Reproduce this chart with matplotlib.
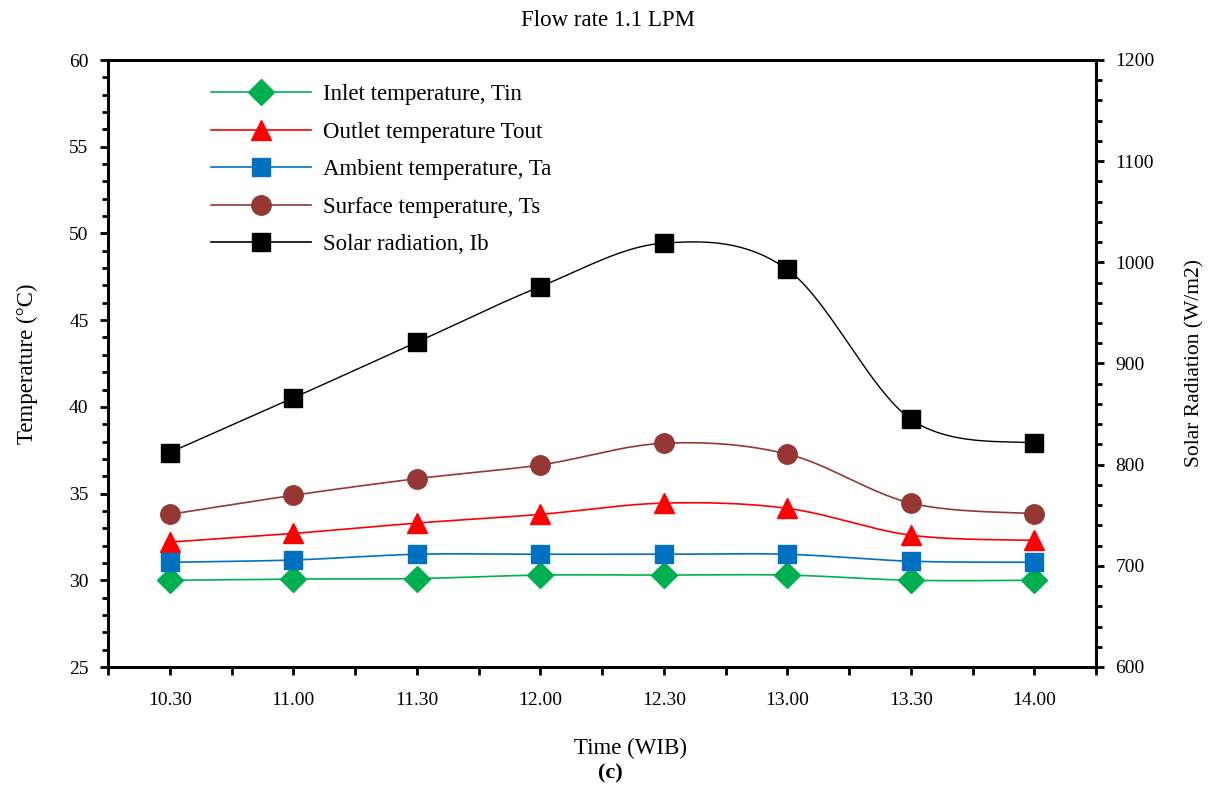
import numpy as np
import matplotlib.pyplot as plt
from matplotlib.ticker import MultipleLocator
from matplotlib.lines import Line2D

plt.rcParams['font.family'] = ['Liberation Serif', 'DejaVu Serif']

# Data: readings every half hour, flow rate 1.1 LPM
times = ['10.30', '11.00', '11.30', '12.00', '12.30', '13.00', '13.30', '14.00']
t_in = [30.0, 30.07, 30.1, 30.3, 30.3, 30.3, 30.0, 30.0]
t_out = [32.2, 32.7, 33.3, 33.8, 34.45, 34.15, 32.6, 32.3]
t_amb = [31.04, 31.17, 31.5, 31.5, 31.5, 31.5, 31.1, 31.04]
t_surf = [33.8, 34.9, 35.86, 36.65, 37.9, 37.28, 34.45, 33.84]
solar = [812, 866, 921, 976, 1019, 993, 845, 821]


def smooth(x, y, n=40):
    # Bezier smoothing through every point (same shape as a spreadsheet "smoothed line")
    x = np.asarray(x, float)
    y = np.asarray(y, float)
    px = np.concatenate([[x[0]], x, [x[-1]]])
    py = np.concatenate([[y[0]], y, [y[-1]]])
    xs, ys = [], []
    s = np.linspace(0, 1, n)
    for i in range(1, len(px) - 2):
        p0x, p1x, p2x, p3x = px[i - 1], px[i], px[i + 1], px[i + 2]
        p0y, p1y, p2y, p3y = py[i - 1], py[i], py[i + 1], py[i + 2]
        c1x, c1y = p1x + (p2x - p0x) / 6, p1y + (p2y - p0y) / 6
        c2x, c2y = p2x - (p3x - p1x) / 6, p2y - (p3y - p1y) / 6
        bx = (1 - s) ** 3 * p1x + 3 * (1 - s) ** 2 * s * c1x + 3 * (1 - s) * s ** 2 * c2x + s ** 3 * p2x
        by = (1 - s) ** 3 * p1y + 3 * (1 - s) ** 2 * s * c1y + 3 * (1 - s) * s ** 2 * c2y + s ** 3 * p2y
        xs.append(bx)
        ys.append(by)
    return np.concatenate(xs), np.concatenate(ys)


fig = plt.figure(figsize=(12.2, 7.91), dpi=100)
ax = fig.add_axes([108 / 1220, 1 - 667 / 791, 988 / 1220, 607 / 791])
ax2 = ax.twinx()

x = np.arange(len(times))

series = [
    (t_in, 'D', '#00B050', 13, 'Inlet temperature, Tin'),
    (t_out, '^', '#FF0000', 15, 'Outlet temperature Tout'),
    (t_amb, 's', '#0070C0', 12.5, 'Ambient temperature, Ta'),
    (t_surf, 'o', '#953735', 14, 'Surface temperature, Ts'),
]
handles = []
for vals, mk, col, ms, lab in series:
    sx, sy = smooth(x, vals)
    ax.plot(sx, sy, color=col, lw=1.2, zorder=2)
    ax.plot(x, vals, ls='none', marker=mk, color=col, ms=ms, zorder=3)
    handles.append(Line2D([], [], color=col, lw=1.2, marker=mk, ms=ms, label=lab))

sx, sy = smooth(x, solar)
ax2.plot(sx, sy, color='black', lw=1.0, zorder=2)
ax2.plot(x, solar, ls='none', marker='s', color='black', ms=12.5, zorder=3)
handles.append(Line2D([], [], color='black', lw=1.2, marker='s', ms=12.5, label='Solar radiation, Ib'))

# Axes limits and ticks
ax.set_xlim(-0.5, 7.5)
ax.set_ylim(25, 60)
ax2.set_ylim(600, 1200)
ax.set_xticks(x)
ax.set_xticklabels(times)
ax.xaxis.set_minor_locator(MultipleLocator(0.5))
ax.yaxis.set_major_locator(MultipleLocator(5))
ax.yaxis.set_minor_locator(MultipleLocator(1))
ax2.yaxis.set_major_locator(MultipleLocator(100))
ax2.yaxis.set_minor_locator(MultipleLocator(20))

for a in (ax, ax2):
    for sp in a.spines.values():
        sp.set_linewidth(2.0)
    a.tick_params(which='both', direction='out', width=2.0, labelsize=14)
    a.tick_params(which='major', length=6, pad=8)
    a.tick_params(which='minor', length=4)
ax.tick_params(axis='x', which='both', length=6)
ax.tick_params(axis='x', pad=12)

ax.set_ylabel('Temperature (°C)', fontsize=16.5, labelpad=22)
ax2.set_ylabel('Solar Radiation (W/m2)', fontsize=15.5, labelpad=22)

fig.text(608 / 1220, 1 - 20 / 791, 'Flow rate 1.1 LPM', ha='center', va='center', fontsize=16.5)
fig.text(630 / 1220, 1 - 748 / 791, 'Time (WIB)', ha='center', va='center', fontsize=16.5)
fig.text(0.5, 1 - 773 / 791, '(c)', ha='center', va='center', fontsize=16, fontweight='bold')

leg = ax2.legend(handles=handles, loc='upper left', bbox_to_anchor=(0.083, 0.994),
                 frameon=False, fontsize=16.5, handlelength=4.4, handletextpad=0.5,
                 labelspacing=0.72)

fig.savefig('out.png', dpi=100)
